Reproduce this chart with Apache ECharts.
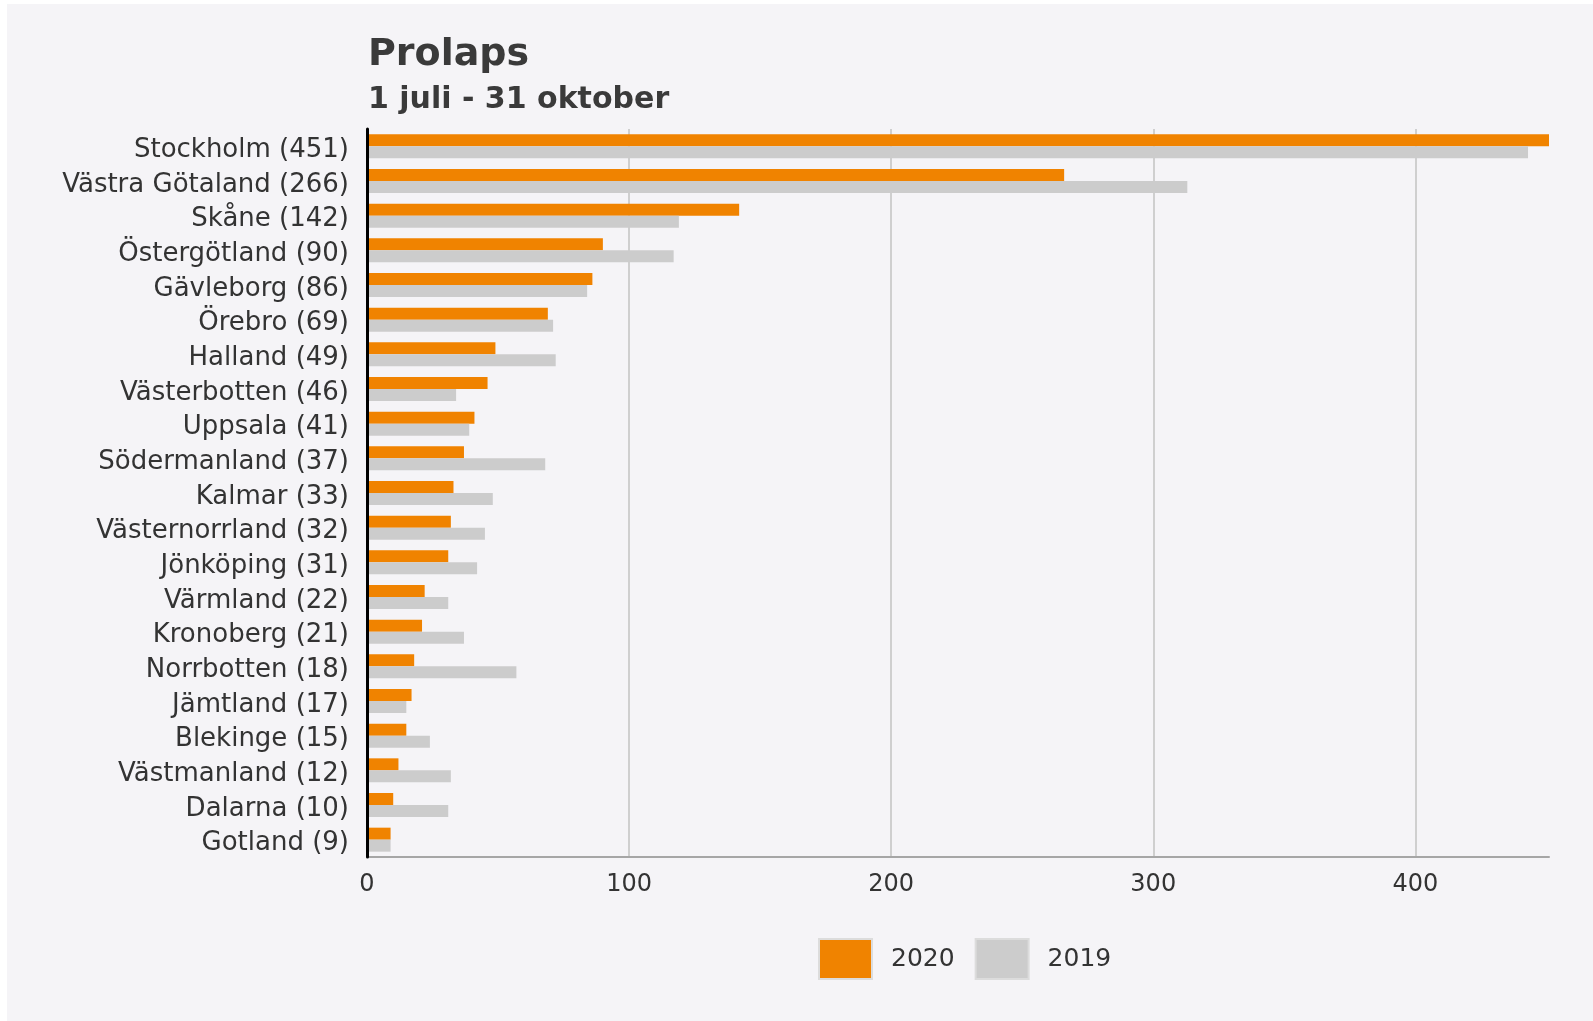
<!DOCTYPE html>
<html>
<head>
<meta charset="utf-8">
<title>Prolaps</title>
<script src="https://cdn.jsdelivr.net/npm/echarts@6/dist/echarts.min.js"></script>
<style>
  html, body {
    margin: 0;
    padding: 0;
    background: #ffffff;
  }
  .chartParent {
    position: absolute;
    left: 7px;
    top: 4px;
    width: 1586px;
    height: 1017px;
    background: #f5f4f7;
  }
  .chart {
    width: 100%;
    height: 100%;
  }
</style>
</head>
<body>
<div class="chartParent">
  <div class="chart" id="chart"></div>
</div>
<script>
const regions = [
  "Stockholm (451)", "Västra Götaland (266)", "Skåne (142)", "Östergötland (90)",
  "Gävleborg (86)", "Örebro (69)", "Halland (49)", "Västerbotten (46)",
  "Uppsala (41)", "Södermanland (37)", "Kalmar (33)", "Västernorrland (32)",
  "Jönköping (31)", "Värmland (22)", "Kronoberg (21)", "Norrbotten (18)",
  "Jämtland (17)", "Blekinge (15)", "Västmanland (12)", "Dalarna (10)", "Gotland (9)"
];
const values2020 = [451, 266, 142, 90, 86, 69, 49, 46, 41, 37, 33, 32, 31, 22, 21, 18, 17, 15, 12, 10, 9];
const values2019 = [443, 313, 119, 117, 84, 71, 72, 34, 39, 68, 48, 45, 42, 31, 37, 57, 15, 24, 32, 31, 9];
const seriesNames = ["2020", "2019"];
const axisMax = 451;

const textColor = "#333333";
const font = "'DejaVu Sans', 'Liberation Sans', sans-serif";

const buildOption = () => {
  return {
    animation: false,
    textStyle: { fontFamily: font },
    title: {
      text: "Prolaps",
      subtext: "1 juli - 31 oktober",
      left: 361,
      top: 31,
      padding: 0,
      itemGap: 9,
      textStyle: {
        fontFamily: font,
        fontSize: 38,
        fontWeight: "bold",
        color: "#3a3a3a",
        lineHeight: 40
      },
      subtextStyle: {
        fontFamily: font,
        fontSize: 30,
        fontWeight: "bold",
        color: "#3a3a3a",
        lineHeight: 32
      }
    },
    legend: {
      left: 806,
      top: 929,
      icon: "rect",
      itemWidth: 53,
      itemHeight: 40,
      itemGap: 20,
      itemStyle: {
        borderColor: "#dcdcdc",
        borderWidth: 2
      },
      textStyle: {
        fontFamily: font,
        fontSize: 25,
        color: textColor,
        padding: [0, 0, 0, 14]
      },
      data: seriesNames
    },
    grid: {
      left: 360,
      right: 44,
      top: 125,
      bottom: 164,
      containLabel: false
    },
    xAxis: {
      type: "value",
      min: 0,
      max: axisMax,
      interval: 100,
      axisLine: {
        show: true,
        lineStyle: { color: "#a6a6a6", width: 2 }
      },
      axisTick: { show: false },
      axisLabel: {
        showMaxLabel: false,
        margin: 16,
        fontFamily: font,
        fontSize: 24,
        color: textColor
      },
      splitLine: {
        show: true,
        showMinLine: false,
        showMaxLine: false,
        lineStyle: { color: "#cfcfcf", width: 2 }
      }
    },
    yAxis: {
      type: "category",
      inverse: true,
      data: regions,
      z: 5,
      axisLine: {
        show: true,
        lineStyle: { color: "#000000", width: 3 }
      },
      axisTick: { show: false },
      axisLabel: {
        margin: 18,
        formatter: (value) => `{l|${value}}`,
        rich: {
          l: {
            fontFamily: font,
            fontSize: 26,
            color: textColor,
            padding: [8, 0, 0, 0]
          }
        }
      }
    },
    series: [
      {
        name: seriesNames[0],
        type: "bar",
        data: values2020,
        barWidth: 12,
        barGap: "0%",
        itemStyle: { color: "#f08300" }
      },
      {
        name: seriesNames[1],
        type: "bar",
        data: values2019,
        barWidth: 12,
        barGap: "0%",
        itemStyle: { color: "#cccccc" }
      }
    ]
  };
};

const chart = echarts.init(document.getElementById("chart"));
chart.setOption(buildOption());
</script>
</body>
</html>
